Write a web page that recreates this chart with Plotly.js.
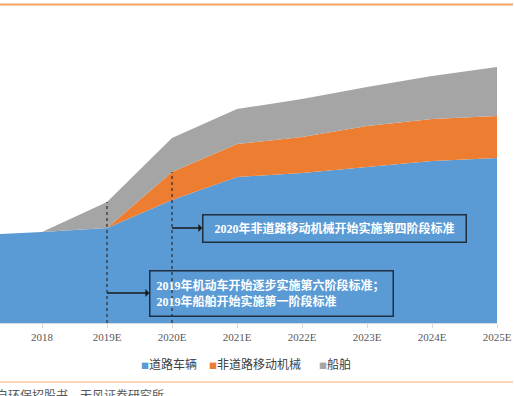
<!DOCTYPE html>
<html>
<head>
<meta charset="utf-8">
<script src="https://cdn.plot.ly/plotly-3.0.1.min.js"></script>
<style>html,body{margin:0;padding:0;background:#fff;}#chart{width:514px;height:396px;}</style>
</head>
<body>
<div id="chart"></div>
<script>
// Categories (first one is cropped off the left edge in the reference)
const years = ['2017', '2018', '2019E', '2020E', '2021E', '2022E', '2023E', '2024E', '2025E'];
// Series values (relative units)
const roadVehicles = [88, 91, 95, 123, 146, 150, 156, 162, 165];
const nonRoadMachinery = [0, 0, 0, 28, 33, 36, 41, 42, 42];
const ships = [0, 0, 26, 34, 35, 38, 39, 43, 49];
const seriesNames = ['道路车辆', '非道路移动机械', '船舶'];
const colors = ['#5b9bd5', '#ed7d31', '#a5a5a5'];

const note2020 = '2020年非道路移动机械开始实施第四阶段标准';
const note2019 = '2019年机动车开始逐步实施第六阶段标准；<br>2019年船舶开始实施第一阶段标准';
const sourceText = '资料来源：中自环保招股书，天风证券研究所';

const W = 514, H = 396;
const M = {l: 0, r: 17, t: 20, b: 73};
const PW = W - M.l - M.r, PH = H - M.t - M.b;
const px = x => (x - M.l) / PW;
const py = y => (H - M.b - y) / PH;

const idx = c => years.indexOf(c);
const i19 = idx('2019E'), i20 = idx('2020E');
const top19 = roadVehicles[i19] + nonRoadMachinery[i19] + ships[i19];
const mid20 = roadVehicles[i20] + nonRoadMachinery[i20];

const allSeries = [roadVehicles, nonRoadMachinery, ships];
const traces = allSeries.map((ys, k) => ({
  type: 'scatter', x: years, y: ys, name: seriesNames[k],
  stackgroup: 'one', mode: 'none', line: {width: 0},
  fillcolor: colors[k], showlegend: false, hoverinfo: 'skip'
}));

const legendX = [139, 207, 317];
const annotations = seriesNames.map((n, k) => ({
  xref: 'paper', yref: 'paper', x: px(legendX[k]), y: py(363),
  xanchor: 'left', yanchor: 'middle', showarrow: false,
  text: '<span style="color:' + colors[k] + ';font-size:8px">■</span>' + n,
  font: {family: 'Noto Sans CJK SC', size: 12, color: '#404040'}
}));

annotations.push({
  xref: 'x', yref: 'y', x: i20, y: 95,
  ax: 162, ay: 0, showarrow: true, arrowside: 'start',
  arrowhead: 2, arrowsize: 1, arrowwidth: 1.3, arrowcolor: '#1a1a1a',
  standoff: 0, startstandoff: 0,
  text: '<b>' + note2020 + '</b>',
  font: {family: 'Liberation Serif, Noto Sans CJK SC', size: 12, color: '#ffffff'},
  bordercolor: '#1f2f40', borderwidth: 1.5, borderpad: 1,
  width: 260, height: 24, align: 'center', bgcolor: 'rgba(0,0,0,0)'
});
annotations.push({
  xref: 'x', yref: 'y', x: i19, y: 30,
  ax: 164, ay: 0, showarrow: true, arrowside: 'start',
  arrowhead: 2, arrowsize: 1, arrowwidth: 1.3, arrowcolor: '#1a1a1a',
  standoff: 0, startstandoff: 0,
  text: '<b>' + note2019 + '</b>',
  font: {family: 'Liberation Serif, Noto Sans CJK SC', size: 12, color: '#ffffff'},
  bordercolor: '#1f2f40', borderwidth: 1.5, borderpad: 6,
  width: 230, height: 32, align: 'left', bgcolor: 'rgba(0,0,0,0)'
});
annotations.push({
  xref: 'paper', yref: 'paper', x: px(166), y: py(394),
  xanchor: 'right', yanchor: 'middle', showarrow: false,
  text: sourceText,
  font: {family: 'Noto Sans CJK SC', size: 12, color: '#595959'}
});

const shapes = [
  {type: 'line', xref: 'x', yref: 'y', x0: i19, x1: i19, y0: 0, y1: top19,
   line: {color: '#2b2b2b', width: 1.2, dash: '3px,3px'}},
  {type: 'line', xref: 'x', yref: 'y', x0: i20, x1: i20, y0: 0, y1: mid20,
   line: {color: '#2b2b2b', width: 1.2, dash: '3px,3px'}},
  {type: 'line', xref: 'paper', yref: 'paper', x0: px(0), x1: px(513), y0: py(4.5), y1: py(4.5),
   line: {color: '#f5a462', width: 2}},
  {type: 'line', xref: 'paper', yref: 'paper', x0: px(0), x1: px(513), y0: py(382), y1: py(382),
   line: {color: '#f9c9a0', width: 1.5}}
];

const layout = {
  width: W, height: H, margin: M,
  paper_bgcolor: '#ffffff', plot_bgcolor: '#ffffff',
  showlegend: false,
  xaxis: {
    type: 'category', range: [1 - 42 / 65, years.length - 1],
    showline: true, linecolor: '#d9d9d9', linewidth: 1,
    ticks: 'outside', ticklen: 4, tickcolor: '#d9d9d9',
    showgrid: false, zeroline: false,
    tickfont: {family: 'Liberation Serif', size: 11, color: '#595959'}
  },
  yaxis: {
    range: [0, PH], showgrid: false, zeroline: false,
    showticklabels: false, showline: false, ticks: ''
  },
  annotations: annotations,
  shapes: shapes
};

Plotly.newPlot('chart', traces, layout, {displayModeBar: false, staticPlot: true});
</script>
</body>
</html>
